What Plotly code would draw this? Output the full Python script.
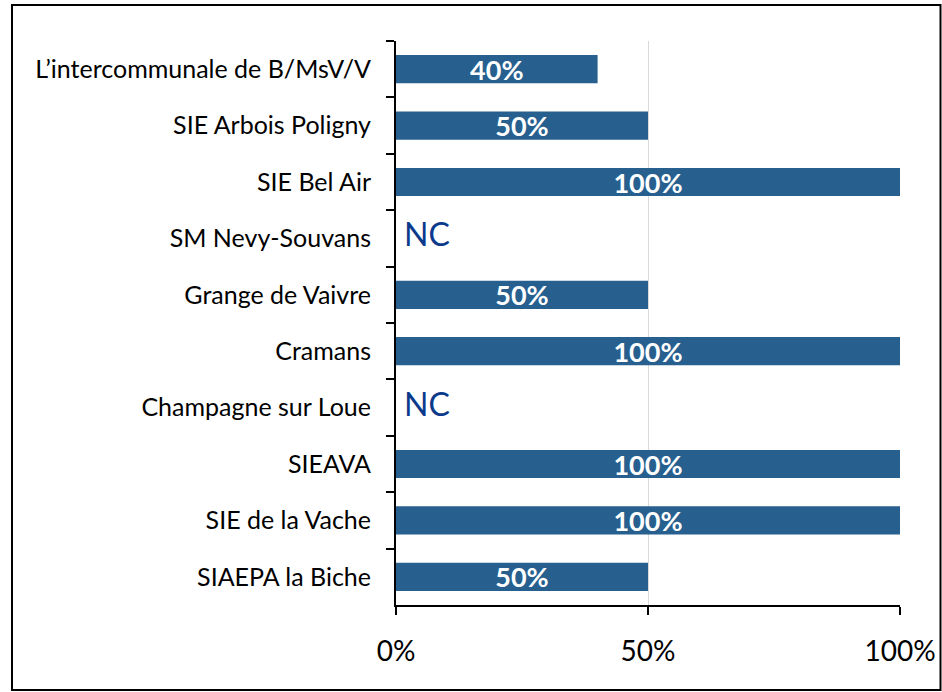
import plotly.graph_objects as go

categories = [
    "L’intercommunale de B/MsV/V",
    "SIE Arbois Poligny",
    "SIE Bel Air",
    "SM Nevy-Souvans",
    "Grange de Vaivre",
    "Cramans",
    "Champagne sur Loue",
    "SIEAVA",
    "SIE de la Vache",
    "SIAEPA la Biche",
]
values = [0.40, 0.50, 1.00, None, 0.50, 1.00, None, 1.00, 1.00, 0.50]
nc_label = "NC"
x_tickvals = [0, 0.5, 1.0]
x_ticktext = ["0%", "50%", "100%"]

bar_text = [f"{v*100:.0f}%" if v is not None else "" for v in values]
nc_cats = [c for c, v in zip(categories, values) if v is None]

FONT = "Lato, 'Open Sans', sans-serif"

fig = go.Figure()
fig.add_trace(go.Bar(
    y=categories, x=[v if v is not None else 0 for v in values],
    orientation="h",
    marker=dict(color="#27608F", line=dict(width=0)),
    text=bar_text, textposition="inside", insidetextanchor="middle",
    constraintext="none",
    textfont=dict(family=FONT, size=27, color="white", weight="bold"),
    textangle=0, cliponaxis=False, showlegend=False, hoverinfo="skip",
))
fig.add_trace(go.Scatter(
    y=nc_cats, x=[0]*len(nc_cats), mode="text",
    text=["\u2005" + nc_label]*len(nc_cats), textposition="middle right",
    textfont=dict(family=FONT, size=32, color="#0B3A8C"),
    showlegend=False, hoverinfo="skip", cliponaxis=False,
))

L, R, T, B = 396, 42, 41, 87
W, H = 942, 692
pw, ph = W - L - R, H - T - B

def px_x(px):
    return (px - L) / pw

def px_y(py):
    return (H - B - py) / ph

fig.update_layout(
    width=W, height=H,
    margin=dict(l=L, r=R, t=T, b=B, autoexpand=False),
    paper_bgcolor="white", plot_bgcolor="white",
    bargap=0.5,
    font=dict(family=FONT, color="black"),
    xaxis=dict(
        range=[0, 1], tickvals=x_tickvals, ticktext=x_ticktext,
        showgrid=True, gridcolor="#D9D9D9", gridwidth=1,
        showline=True, linecolor="black", linewidth=2,
        ticks="outside", ticklen=8, tickwidth=2, tickcolor="black",
        tickfont=dict(family=FONT, size=28, color="black"),
        ticklabelstandoff=12, zeroline=False, fixedrange=True,
    ),
    yaxis=dict(
        categoryorder="array", categoryarray=categories,
        autorange="reversed",
        showline=True, linecolor="black", linewidth=2,
        ticks="outside", ticklen=8, tickwidth=2, tickcolor="black",
        tickson="boundaries",
        tickfont=dict(family=FONT, size=25, color="black"),
        ticklabelstandoff=18, showgrid=False, fixedrange=True,
    ),
    shapes=[dict(
        type="rect", xref="paper", yref="paper",
        x0=px_x(12), x1=px_x(940.5), y0=px_y(690), y1=px_y(5),
        line=dict(color="black", width=2), fillcolor="rgba(0,0,0,0)",
        layer="below",
    )],
)

fig.write_html("out.html", config={"displayModeBar": False},
               post_script="document.body.style.margin='0';")
